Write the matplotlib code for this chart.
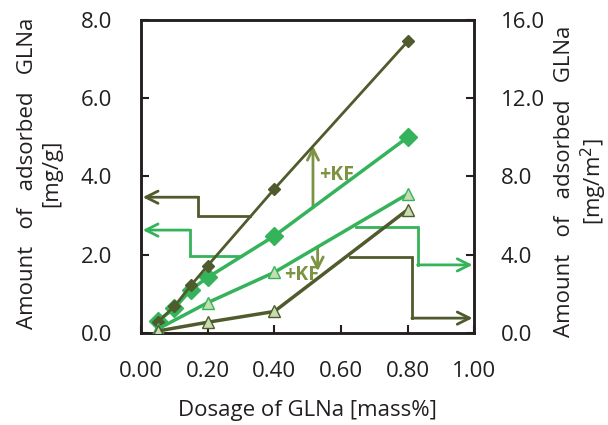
import matplotlib.pyplot as plt

plt.rcParams['font.family'] = ['Open Sans', 'DejaVu Sans']

# dosage [mass%]
dose_d = [0.05, 0.10, 0.15, 0.20, 0.40, 0.80]
dose_t = [0.05, 0.20, 0.40, 0.80]

# left axis, mg/g
kf_diamond = [0.28, 0.68, 1.22, 1.72, 3.68, 7.45]
no_kf_diamond = [0.30, 0.63, 1.11, 1.42, 2.48, 5.00]

# right axis, mg/m2
no_kf_tri = [0.20, 1.55, 3.10, 7.10]
kf_tri = [0.10, 0.55, 1.10, 6.30]

x_ticks = [0.0, 0.2, 0.4, 0.6, 0.8, 1.0]
y_ticks = [0.0, 2.0, 4.0, 6.0, 8.0]
y2_ticks = [0.0, 4.0, 8.0, 12.0, 16.0]

DARK = '#4f5b2c'
GREEN = '#35b35a'
TRI_FILL = '#c6dcb1'
KF_COL = '#7b9343'
AX_COL = '#231f20'
FS = 16

fig = plt.figure(figsize=(6.08, 4.25), dpi=100)
ax = fig.add_axes([0.232, 0.2165, 0.548, 0.7365])
ax2 = ax.twinx()

ax.plot(dose_d, kf_diamond, color=DARK, lw=2, marker='D', ms=6, zorder=5)
ax.plot(dose_d, no_kf_diamond, color=GREEN, lw=2.5, marker='D', ms=9, zorder=4)
ax2.plot(dose_t, no_kf_tri, color=GREEN, lw=2.5, marker='^', ms=9,
         mfc=TRI_FILL, mec=GREEN, mew=1, zorder=4)
ax2.plot(dose_t, kf_tri, color=DARK, lw=2.5, marker='^', ms=9,
         mfc=TRI_FILL, mec=DARK, mew=1, zorder=4)


def step_arrow(pts, color):
    xs = [p[0] for p in pts]
    ys = [p[1] for p in pts]
    ax.plot(xs[1:], ys[1:], color=color, lw=2, solid_joinstyle='miter')
    ax.annotate('', xy=pts[0], xytext=pts[1],
                arrowprops=dict(arrowstyle='->', color=color, lw=2,
                                mutation_scale=22, shrinkA=0, shrinkB=0))


# axis pointers (left axis coordinates)
step_arrow([(0.005, 3.47), (0.172, 3.47), (0.172, 2.99), (0.326, 2.99)], DARK)
step_arrow([(0.005, 2.63), (0.147, 2.63), (0.147, 1.97), (0.30, 1.97)], GREEN)
step_arrow([(0.995, 1.74), (0.83, 1.74), (0.83, 2.72), (0.646, 2.72)], GREEN)
step_arrow([(0.995, 0.38), (0.813, 0.38), (0.813, 1.95), (0.626, 1.95)], DARK)

# +KF arrows
ax.annotate('', xy=(0.516, 4.78), xytext=(0.516, 3.2),
            arrowprops=dict(arrowstyle='->', color=KF_COL, lw=2,
                            mutation_scale=20, shrinkA=0, shrinkB=0))
ax.text(0.535, 4.05, '+KF', color=KF_COL, fontsize=14, fontweight='bold',
        ha='left', va='center')
ax.annotate('', xy=(0.53, 1.58), xytext=(0.53, 2.2),
            arrowprops=dict(arrowstyle='->', color=KF_COL, lw=2,
                            mutation_scale=20, shrinkA=0, shrinkB=0))
ax.text(0.43, 1.48, '+KF', color=KF_COL, fontsize=14, fontweight='bold',
        ha='left', va='center')

ax.set_xlim(0, 1.0)
ax.set_ylim(0, 8.0)
ax2.set_ylim(0, 16.0)
ax.set_xticks(x_ticks)
ax.set_xticklabels([f'{v:.2f}' for v in x_ticks])
ax.set_yticks(y_ticks)
ax.set_yticklabels([f'{v:.1f}' for v in y_ticks])
ax2.set_yticks(y2_ticks)
ax2.set_yticklabels([f'{v:.1f}' for v in y2_ticks])

for a in (ax, ax2):
    a.tick_params(direction='in', length=6, width=1.5, color=AX_COL,
                  labelsize=FS, labelcolor=AX_COL)
    for s in a.spines.values():
        s.set_linewidth(1.8)
        s.set_color(AX_COL)
ax.tick_params(axis='y', pad=21)
ax.tick_params(axis='x', pad=20)
ax2.tick_params(axis='y', pad=19)

ax.set_xlabel('Dosage of GLNa [mass%]', fontsize=FS, color=AX_COL)
ax.xaxis.set_label_coords(0.5, -0.215)
ax.set_ylabel('Amount   of   adsorbed   GLNa\n[mg/g]', fontsize=FS,
              color=AX_COL, linespacing=1.2)
ax.yaxis.set_label_coords(-0.237, 0.51)
ax2.set_ylabel('Amount   of   adsorbed   GLNa\n[mg/m$^2$]', fontsize=FS,
               color=AX_COL, rotation=90, linespacing=1.15)
ax2.yaxis.set_label_coords(1.24, 0.485)

fig.savefig('out.png', dpi=100)
